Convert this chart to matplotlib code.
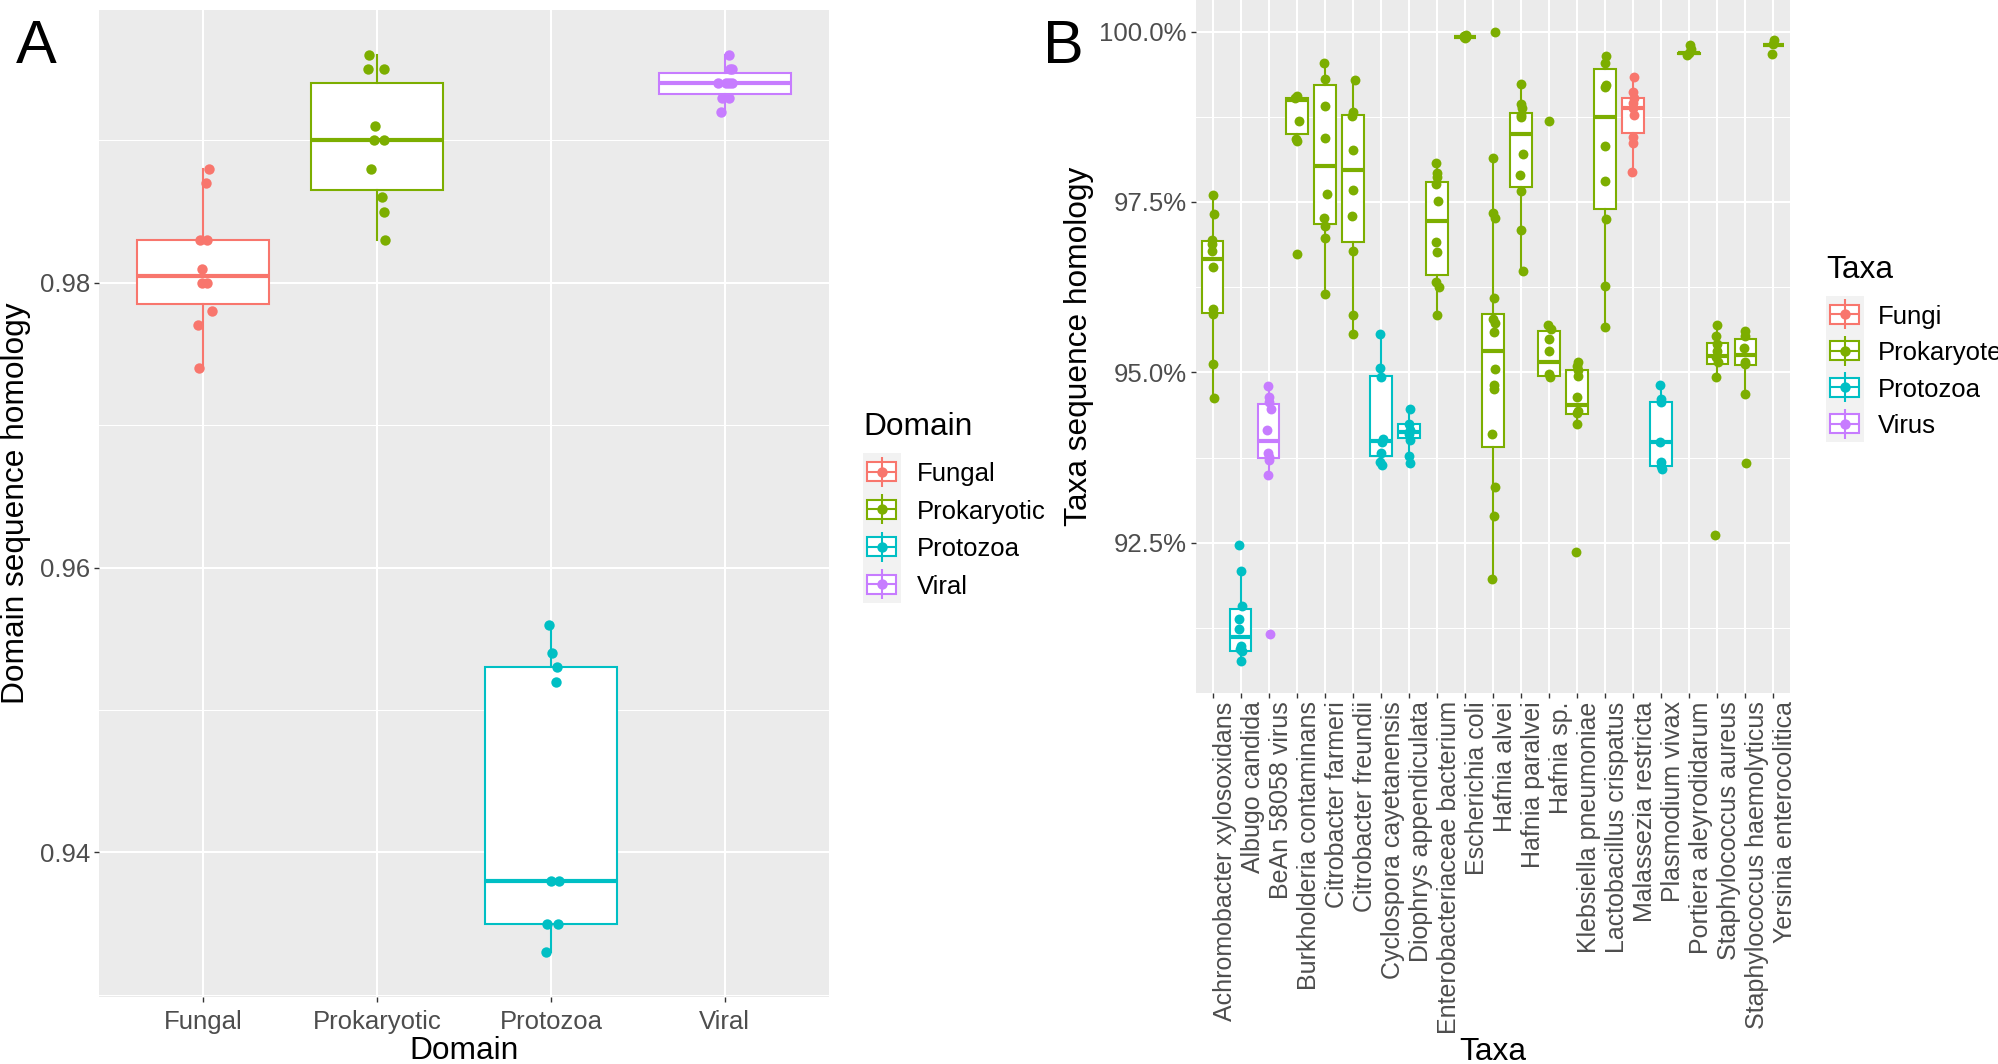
import matplotlib
matplotlib.use("Agg")
import matplotlib.pyplot as plt
import numpy as np
from matplotlib.patches import Rectangle
from matplotlib.ticker import FixedLocator, FuncFormatter

plt.rcParams['font.family'] = ['Liberation Sans', 'DejaVu Sans']

# ---------------- data: panel A ----------------
domains = ["Fungal", "Prokaryotic", "Protozoa", "Viral"]
fungal_vals = [0.988, 0.987, 0.983, 0.983, 0.981, 0.980, 0.980, 0.978, 0.977, 0.974]
fungal_jit = [0.03, 0.016, -0.02, 0.024, -0.005, -0.01, 0.024, 0.05, -0.03, -0.025]
prok_vals = [0.996, 0.995, 0.995, 0.991, 0.990, 0.990, 0.988, 0.986, 0.985, 0.983]
prok_jit = [-0.046, -0.05, 0.04, -0.01, -0.015, 0.04, -0.035, 0.027, 0.04, 0.045]
proto_vals = [0.956, 0.954, 0.953, 0.952, 0.938, 0.938, 0.935, 0.935, 0.933]
proto_jit = [-0.01, 0.005, 0.035, 0.027, 0.003, 0.046, -0.02, 0.04, -0.027]
viral_vals = [0.996, 0.995, 0.995, 0.994, 0.994, 0.994, 0.994, 0.993, 0.993, 0.992]
viral_jit = [0.024, 0.043, 0.03, -0.04, 0.024, 0.043, 0.01, -0.016, 0.024, -0.019]

# ---------------- data: panel B (percent) ----------------
taxa = ["Achromobacter xylosoxidans", "Albugo candida", "BeAn 58058 virus",
        "Burkholderia contaminans", "Citrobacter farmeri", "Citrobacter freundii",
        "Cyclospora cayetanensis", "Diophrys appendiculata", "Enterobacteriaceae bacterium",
        "Escherichia coli", "Hafnia alvei", "Hafnia paralvei", "Hafnia sp.",
        "Klebsiella pneumoniae", "Lactobacillus crispatus", "Malassezia restricta",
        "Plasmodium vivax", "Portiera aleyrodidarum", "Staphylococcus aureus",
        "Staphylococcus haemolyticus", "Yersinia enterocolitica"]
taxa_group = ["Prokaryote", "Protozoa", "Virus", "Prokaryote", "Prokaryote", "Prokaryote",
              "Protozoa", "Protozoa", "Prokaryote", "Prokaryote", "Prokaryote", "Prokaryote",
              "Prokaryote", "Prokaryote", "Prokaryote", "Fungi", "Protozoa", "Prokaryote",
              "Prokaryote", "Prokaryote", "Prokaryote"]

# box statistics: lower whisker, q1, median, q3, upper whisker
whisk_lo = [94.62, 90.76, 93.50, 98.39, 96.15, 95.56, 93.64, 93.78, 95.84, 99.915, 91.97,
            96.49, 94.93, 94.24, 95.67, 97.94, 93.59, 99.665, 94.93, 94.69, 99.80]
q1 = [95.87, 90.92, 93.75, 98.49, 97.17, 96.91, 93.78, 94.04, 96.43, 99.915, 93.91,
      97.72, 94.95, 94.39, 97.39, 98.51, 93.63, 99.675, 95.13, 95.11, 99.80]
median = [96.66, 91.12, 93.99, 99.00, 98.03, 97.97, 93.99, 94.12, 97.22, 99.92, 95.31,
          98.49, 95.16, 94.52, 98.74, 98.88, 93.98, 99.68, 95.24, 95.26, 99.80]
q3 = [96.93, 91.53, 94.53, 99.03, 99.21, 98.78, 94.95, 94.24, 97.80, 99.925, 95.86,
      98.80, 95.61, 95.03, 99.45, 99.03, 94.57, 99.685, 95.43, 95.49, 99.80]
whisk_hi = [97.60, 92.09, 94.80, 99.05, 99.54, 99.29, 95.56, 94.46, 98.07, 99.925, 98.14,
            99.23, 95.69, 95.16, 99.64, 99.34, 94.82, 99.70, 95.69, 95.61, 99.80]

taxa_points = [
    [97.60, 97.32, 96.94, 96.88, 96.78, 96.54, 95.93, 95.86, 95.13, 94.62],
    [92.47, 92.09, 91.58, 91.38, 91.24, 90.99, 90.95, 90.92, 90.76],
    [94.80, 94.64, 94.57, 94.46, 94.16, 93.82, 93.76, 93.72, 93.50, 91.16],
    [99.05, 99.02, 98.68, 98.42, 98.39, 96.74],
    [99.54, 99.31, 98.91, 98.44, 97.62, 97.27, 97.15, 96.97, 96.15],
    [99.29, 98.82, 98.76, 98.26, 97.68, 97.29, 96.78, 95.84, 95.56],
    [95.56, 95.07, 94.93, 94.03, 93.98, 93.82, 93.68, 93.64],
    [94.46, 94.24, 94.16, 94.09, 94.01, 93.78, 93.67],
    [98.07, 97.93, 97.86, 97.76, 97.51, 96.92, 96.76, 96.33, 96.25, 95.84],
    [99.95, 99.94, 99.93, 99.92, 99.92, 99.91],
    [100.0, 98.14, 97.34, 97.27, 96.09, 95.78, 95.72, 95.59, 95.05, 94.82, 94.75, 94.09, 93.32, 92.89, 91.97],
    [99.23, 98.93, 98.88, 98.78, 98.74, 98.20, 97.89, 97.66, 97.09, 96.49],
    [98.68, 95.69, 95.64, 95.49, 95.32, 94.97, 94.93],
    [95.16, 95.10, 95.03, 94.95, 94.64, 94.44, 94.41, 94.24, 92.36],
    [99.64, 99.54, 99.21, 99.18, 98.32, 97.81, 97.25, 96.26, 95.67],
    [99.34, 99.11, 99.03, 98.95, 98.88, 98.78, 98.45, 98.37, 97.94],
    [94.82, 94.61, 94.57, 93.98, 93.68, 93.62, 93.59],
    [99.80, 99.74, 99.68, 99.66],
    [95.69, 95.54, 95.41, 95.31, 95.23, 95.16, 94.93, 92.61],
    [95.61, 95.54, 95.36, 95.16, 95.12, 94.69, 93.67],
    [99.87, 99.82, 99.67],
]
taxa_jitter = [
    [0.02, 0.06, -0.04, -0.02, -0.04, 0.01, 0.0, -0.01, 0.0, 0.06],
    [-0.05, 0.0, 0.04, -0.05, -0.05, 0.0, -0.04, 0.04, 0.0],
    [-0.02, -0.01, 0.01, 0.06, -0.05, -0.02, 0.01, 0.01, -0.04, 0.04],
    [0.0, -0.06, 0.06, -0.02, 0.01, -0.01],
    [-0.02, -0.01, 0.01, 0.01, 0.06, -0.02, 0.0, 0.0, -0.01],
    [0.07, -0.01, -0.05, -0.01, 0.02, -0.05, -0.01, 0.02, -0.01],
    [-0.02, -0.02, 0.02, 0.06, 0.04, 0.0, -0.02, 0.04],
    [0.05, 0.01, 0.05, -0.01, 0.05, -0.01, 0.05],
    [-0.05, 0.01, 0.01, -0.02, 0.02, -0.02, 0.01, -0.02, 0.06, 0.0],
    [0.02, -0.05, 0.0, 0.03, -0.03, 0.01],
    [0.06, 0.0, 0.0, 0.06, 0.04, 0.0, 0.06, 0.04, 0.06, 0.02, 0.04, -0.02, 0.06, 0.02, -0.02],
    [0.01, 0.01, 0.04, -0.01, 0.01, 0.07, -0.02, 0.01, 0.01, 0.07],
    [0.01, -0.02, 0.06, 0.01, 0.0, 0.01, 0.04],
    [0.05, 0.0, 0.05, 0.05, 0.0, 0.05, 0.0, 0.0, -0.04],
    [0.04, 0.0, 0.04, -0.02, -0.02, -0.02, 0.04, 0.0, -0.02],
    [0.04, -0.02, 0.04, -0.02, 0.01, 0.04, -0.02, 0.01, -0.05],
    [-0.04, -0.02, 0.0, -0.04, -0.02, 0.0, 0.04],
    [0.04, 0.06, -0.02, -0.06],
    [-0.01, -0.04, 0.0, 0.0, -0.04, 0.02, -0.04, -0.06],
    [0.0, -0.02, -0.05, 0.0, -0.02, 0.0, 0.04],
    [0.02, -0.01, -0.04],
]

taxa_legend = ["Fungi", "Prokaryote", "Protozoa", "Virus"]

# ---------------- styling ----------------
COL = {"Fungal": "#F8766D", "Prokaryotic": "#7CAE00", "Protozoa": "#00BFC4", "Viral": "#C77CFF",
       "Fungi": "#F8766D", "Prokaryote": "#7CAE00", "Virus": "#C77CFF"}
BG = "#EBEBEB"
TICKCOL = "#4D4D4D"
W, H = 1999, 1064
TICK_FS = 18.5
TAXA_FS = 18
TITLE_FS = 22.8
LW = 1.5
MED_LW = 3.0
PT_S = 56


def rect(l, t, r, b):
    return [l / W, 1 - b / H, (r - l) / W, (b - t) / H]


def style_axes(ax):
    ax.set_facecolor(BG)
    for s in ax.spines.values():
        s.set_visible(False)
    ax.grid(which='major', color='white', lw=1.5, zorder=0)
    ax.grid(which='minor', color='white', lw=0.75, zorder=0)
    ax.set_axisbelow(True)
    ax.tick_params(which='major', length=3.6, width=1.0, color='#333333',
                   labelsize=TICK_FS, labelcolor=TICKCOL, pad=3)
    ax.tick_params(which='minor', length=0)


def draw_box(ax, pos, st, color, width):
    ax.bxp([st], positions=[pos], widths=width, patch_artist=True, showfliers=False,
           showcaps=False,
           boxprops=dict(facecolor='white', edgecolor=color, linewidth=LW),
           whiskerprops=dict(color=color, linewidth=LW),
           medianprops=dict(color=color, linewidth=MED_LW, solid_capstyle='butt'),
           manage_ticks=False, zorder=2)


fig = plt.figure(figsize=(W / 100, H / 100), dpi=100)

# ---------------- Panel A ----------------
axA = fig.add_axes(rect(99, 10, 829, 997))
style_axes(axA)
groupsA = [(fungal_vals, fungal_jit), (prok_vals, prok_jit), (proto_vals, proto_jit), (viral_vals, viral_jit)]
allA = []
for i, (name, (vals, jit)) in enumerate(zip(domains, groupsA)):
    pos = i + 1
    sv = sorted(vals)
    q1v, medv, q3v = np.percentile(sv, [25, 50, 75])
    iqr = q3v - q1v
    lo = min(v for v in sv if v >= q1v - 1.5 * iqr)
    hi = max(v for v in sv if v <= q3v + 1.5 * iqr)
    st = dict(med=medv, q1=q1v, q3=q3v, whislo=lo, whishi=hi, fliers=[])
    draw_box(axA, pos, st, COL[name], 0.76)
    axA.scatter([pos + j for j in jit], vals, s=PT_S, color=COL[name], zorder=3, linewidths=0)
    allA += vals
rngA = max(allA) - min(allA)
axA.set_ylim(min(allA) - 0.05 * rngA, max(allA) + 0.05 * rngA)
axA.set_xlim(0.4, 4.6)
axA.set_xticks(range(1, 5))
axA.set_xticklabels(domains)
axA.tick_params(axis='x', pad=5.5)
axA.yaxis.set_major_locator(FixedLocator([0.94, 0.96, 0.98]))
axA.yaxis.set_minor_locator(FixedLocator([0.93, 0.95, 0.97, 0.99]))
axA.yaxis.set_major_formatter(FuncFormatter(lambda v, p: f"{v:.2f}"))
axA.set_xlabel("Domain", fontsize=TITLE_FS, labelpad=2)
axA.set_ylabel("Domain sequence homology", fontsize=TITLE_FS, labelpad=6)
fig.text(16 / W, 1 - 63 / H, "A", fontsize=44, ha='left', va='baseline')

# ---------------- Panel B ----------------
axB = fig.add_axes(rect(1196, 0, 1790, 693))
style_axes(axB)
allB = []
for i in range(len(taxa)):
    pos = i + 1
    c = COL[taxa_group[i]]
    st = dict(med=median[i], q1=q1[i], q3=q3[i], whislo=whisk_lo[i], whishi=whisk_hi[i], fliers=[])
    draw_box(axB, pos, st, c, 0.76)
    axB.scatter([pos + j for j in taxa_jitter[i]], taxa_points[i], s=PT_S * 0.9, color=c,
                zorder=3, linewidths=0)
    allB += taxa_points[i]
rngB = max(allB) - min(allB)
axB.set_ylim(min(allB) - 0.05 * rngB, max(allB) + 0.05 * rngB)
axB.set_xlim(0.4, len(taxa) + 0.6)
axB.set_xticks(range(1, len(taxa) + 1))
axB.set_xticklabels([])
axB.yaxis.set_major_locator(FixedLocator([92.5, 95.0, 97.5, 100.0]))
axB.yaxis.set_minor_locator(FixedLocator([91.25, 93.75, 96.25, 98.75]))
axB.yaxis.set_major_formatter(FuncFormatter(lambda v, p: f"{v:.1f}%"))
axB.set_ylabel("Taxa sequence homology", fontsize=TITLE_FS, labelpad=4)
for i, name in enumerate(taxa):
    axB.text(i + 1, -0.012, name, transform=axB.get_xaxis_transform(), rotation=90,
             ha='left', va='top', fontsize=TAXA_FS, color=TICKCOL)
fig.text(1493 / W, 1 - 1060 / H, "Taxa", fontsize=TITLE_FS, ha='center', va='baseline')
fig.text(1043 / W, 1 - 63 / H, "B", fontsize=44, ha='left', va='baseline')


# ---------------- legends ----------------
def draw_legend(x0, y_top, key_h, title, title_base, labels, colors, label_x):
    n = len(labels)
    lax = fig.add_axes(rect(x0, y_top, x0 + 38, y_top + key_h * n))
    lax.set_xlim(0, 38)
    lax.set_ylim(key_h * n, 0)
    lax.set_facecolor('#F2F2F2')
    lax.set_xticks([])
    lax.set_yticks([])
    for s in lax.spines.values():
        s.set_visible(False)
    for k, (lab, c) in enumerate(zip(labels, colors)):
        cy = key_h * (k + 0.5)
        lax.plot([19, 19], [cy - 15, cy + 15], color=c, lw=LW, solid_capstyle='butt')
        lax.add_patch(Rectangle((4.5, cy - 9.5), 29, 19, facecolor='white', edgecolor=c, lw=LW))
        lax.plot([4.5, 33.5], [cy, cy], color=c, lw=LW, solid_capstyle='butt')
        lax.scatter([19], [cy], s=PT_S, color=c, zorder=3, linewidths=0)
        fig.text(label_x / W, 1 - (y_top + cy) / H, lab, fontsize=TICK_FS, ha='left', va='center_baseline')
    fig.text(x0 / W, 1 - title_base / H, title, fontsize=TITLE_FS, ha='left', va='baseline')


draw_legend(863, 453, 37.5, "Domain", 435, domains, [COL[d] for d in domains], 917)
draw_legend(1826, 296, 36.5, "Taxa", 278, taxa_legend, [COL[d] for d in taxa_legend], 1878)

fig.savefig("out.png", dpi=100)
